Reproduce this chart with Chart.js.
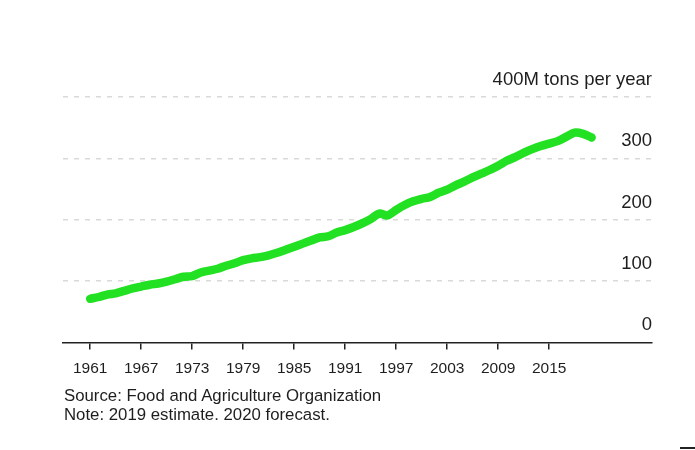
<!DOCTYPE html>
<html>
<head>
<meta charset="utf-8">
<script src="https://cdn.jsdelivr.net/npm/chart.js@4/dist/chart.umd.min.js"></script>
<style>
  html, body { margin: 0; padding: 0; background: #ffffff; }
  #wrap { position: relative; width: 695px; height: 450px; overflow: hidden; }
  #c { position: absolute; left: 0; top: 0; }
  #foot { position: absolute; left: 64px; top: 386px; font-family: "Liberation Sans", Arial, sans-serif;
          font-size: 16.8px; line-height: 19px; color: #1e1e1e; white-space: nowrap; }
  #mark { position: absolute; left: 680px; top: 447px; width: 15px; height: 1.5px; background: #222; }
</style>
</head>
<body>
<div id="wrap">
  <canvas id="c" width="695" height="450"></canvas>
  <div id="foot">Source: Food and Agriculture Organization<br>Note: 2019 estimate. 2020 forecast.</div>
  <div id="mark"></div>
</div>
<script>
const years = [1961,1962,1963,1964,1965,1966,1967,1968,1969,1970,
  1971,1972,1973,1974,1975,1976,1977,1978,1979,1980,
  1981,1982,1983,1984,1985,1986,1987,1988,1989,1990,
  1991,1992,1993,1994,1995,1996,1997,1998,1999,2000,
  2001,2002,2003,2004,2005,2006,2007,2008,2009,2010,
  2011,2012,2013,2014,2015,2016,2017,2018,2019,2020];
const meatProduction = [71,74,78,80,84,88,91,94,96,99,
  103,107,108,114,117,120,125,129,134,137,
  139,142,146,151,156,161,166,171,173,179,
  183,188,194,201,210,207,216,224,230,234,
  237,244,249,256,262,269,275,281,288,296,
  302,309,315,320,324,328,335,342,340,334];
const xTickYears = [1961,1967,1973,1979,1985,1991,1997,2003,2009,2015];
const yTickValues = [0,100,200,300,400];
const yUnitLabel = '400M tons per year';

const ctx = document.getElementById('c').getContext('2d');
new Chart(ctx, {
  type: 'line',
  data: {
    datasets: [{
      data: years.map((yr, i) => ({ x: yr, y: meatProduction[i] })),
      borderColor: '#22e022',
      borderWidth: 8.5,
      borderCapStyle: 'round',
      borderJoinStyle: 'round',
      pointRadius: 0,
      tension: 0.3,
      fill: false,
      clip: false
    }]
  },
  options: {
    responsive: false,
    animation: false,
    layout: { padding: { left: 63, right: 43, top: 97, bottom: 62 } },
    plugins: { legend: { display: false }, tooltip: { enabled: false } },
    scales: {
      x: {
        type: 'linear',
        min: 1957.8,
        max: 2027.1,
        afterBuildTicks: (scale) => { scale.ticks = xTickYears.map(v => ({ value: v })); },
        border: { display: true, color: '#222222', width: 1.5 },
        grid: { display: true, drawOnChartArea: false, drawTicks: true, tickLength: 7,
                color: '#222222', lineWidth: 1.5 },
        ticks: {
          autoSkip: false,
          maxRotation: 0,
          padding: 10,
          color: '#1e1e1e',
          font: { family: '"Liberation Sans", Arial, sans-serif', size: 15.5 },
          callback: (v) => String(v)
        }
      },
      y: {
        position: 'right',
        min: 0,
        max: 400,
        afterBuildTicks: (scale) => { scale.ticks = yTickValues.map(v => ({ value: v })); },
        border: { display: false, dash: [5, 6] },
        grid: {
          drawTicks: false,
          lineWidth: 1.5,
          color: (c) => (c.tick && c.tick.value === 0) ? 'rgba(0,0,0,0)' : '#d9d9d9'
        },
        ticks: {
          mirror: true,
          padding: 0,
          labelOffset: -17,
          crossAlign: 'near',
          color: '#1e1e1e',
          font: { family: '"Liberation Sans", Arial, sans-serif', size: 18.5 },
          callback: (v) => v === 400 ? yUnitLabel : String(v)
        }
      }
    }
  }
});
</script>
</body>
</html>
